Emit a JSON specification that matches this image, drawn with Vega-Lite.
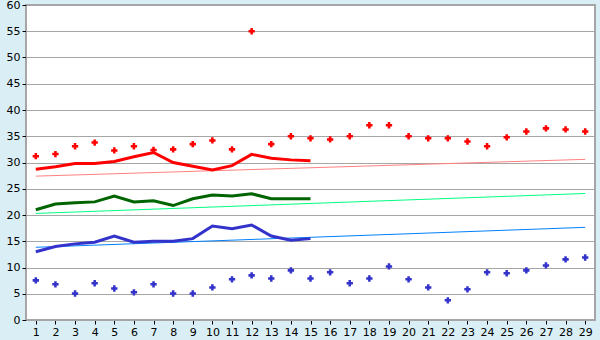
{
  "$schema": "https://vega.github.io/schema/vega-lite/v6.json",
  "autosize": {"type": "none"},
  "width": 569,
  "height": 315,
  "padding": {"left": 26, "top": 5, "right": 5, "bottom": 20},
  "background": "#D9EFF5",
  "config": {
    "view": {"fill": "white", "stroke": "#A6A6A6", "strokeWidth": 2},
    "axis": {"labelFont": "DejaVu Sans", "labelFontSize": 11, "labelColor": "#000000", "titleFontSize": 0}
  },
  "datasets": {
    "pts": [
      {"x": 1, "s": "redPts", "v": 31.2}, {"x": 2, "s": "redPts", "v": 31.6}, {"x": 3, "s": "redPts", "v": 33.1}, {"x": 4, "s": "redPts", "v": 33.8}, {"x": 5, "s": "redPts", "v": 32.3}, {"x": 6, "s": "redPts", "v": 33.1}, {"x": 7, "s": "redPts", "v": 32.4}, {"x": 8, "s": "redPts", "v": 32.5}, {"x": 9, "s": "redPts", "v": 33.5}, {"x": 10, "s": "redPts", "v": 34.2},
      {"x": 11, "s": "redPts", "v": 32.5}, {"x": 12, "s": "redPts", "v": 55.0}, {"x": 13, "s": "redPts", "v": 33.5}, {"x": 14, "s": "redPts", "v": 35.0}, {"x": 15, "s": "redPts", "v": 34.6}, {"x": 16, "s": "redPts", "v": 34.4}, {"x": 17, "s": "redPts", "v": 35.0}, {"x": 18, "s": "redPts", "v": 37.1}, {"x": 19, "s": "redPts", "v": 37.1}, {"x": 20, "s": "redPts", "v": 35.0},
      {"x": 21, "s": "redPts", "v": 34.6}, {"x": 22, "s": "redPts", "v": 34.6}, {"x": 23, "s": "redPts", "v": 34.0}, {"x": 24, "s": "redPts", "v": 33.1}, {"x": 25, "s": "redPts", "v": 34.8}, {"x": 26, "s": "redPts", "v": 35.9}, {"x": 27, "s": "redPts", "v": 36.5}, {"x": 28, "s": "redPts", "v": 36.3}, {"x": 29, "s": "redPts", "v": 35.9},
      {"x": 1, "s": "bluePts", "v": 7.55}, {"x": 2, "s": "bluePts", "v": 6.8}, {"x": 3, "s": "bluePts", "v": 5.05}, {"x": 4, "s": "bluePts", "v": 7.0}, {"x": 5, "s": "bluePts", "v": 6.0}, {"x": 6, "s": "bluePts", "v": 5.27}, {"x": 7, "s": "bluePts", "v": 6.8}, {"x": 8, "s": "bluePts", "v": 5.05}, {"x": 9, "s": "bluePts", "v": 5.05}, {"x": 10, "s": "bluePts", "v": 6.2},
      {"x": 11, "s": "bluePts", "v": 7.75}, {"x": 12, "s": "bluePts", "v": 8.5}, {"x": 13, "s": "bluePts", "v": 7.9}, {"x": 14, "s": "bluePts", "v": 9.45}, {"x": 15, "s": "bluePts", "v": 7.9}, {"x": 16, "s": "bluePts", "v": 9.08}, {"x": 17, "s": "bluePts", "v": 7.0}, {"x": 18, "s": "bluePts", "v": 7.9}, {"x": 19, "s": "bluePts", "v": 10.2}, {"x": 20, "s": "bluePts", "v": 7.75},
      {"x": 21, "s": "bluePts", "v": 6.2}, {"x": 22, "s": "bluePts", "v": 3.75}, {"x": 23, "s": "bluePts", "v": 5.84}, {"x": 24, "s": "bluePts", "v": 9.08}, {"x": 25, "s": "bluePts", "v": 8.9}, {"x": 26, "s": "bluePts", "v": 9.45}, {"x": 27, "s": "bluePts", "v": 10.4}, {"x": 28, "s": "bluePts", "v": 11.55}, {"x": 29, "s": "bluePts", "v": 11.9}
    ],
    "lines": [
      {"x": 1, "s": "redLine", "v": 28.7}, {"x": 2, "s": "redLine", "v": 29.2}, {"x": 3, "s": "redLine", "v": 29.8}, {"x": 4, "s": "redLine", "v": 29.8}, {"x": 5, "s": "redLine", "v": 30.2}, {"x": 6, "s": "redLine", "v": 31.1}, {"x": 7, "s": "redLine", "v": 31.9}, {"x": 8, "s": "redLine", "v": 30.0}, {"x": 9, "s": "redLine", "v": 29.3}, {"x": 10, "s": "redLine", "v": 28.6}, {"x": 11, "s": "redLine", "v": 29.4}, {"x": 12, "s": "redLine", "v": 31.55}, {"x": 13, "s": "redLine", "v": 30.8}, {"x": 14, "s": "redLine", "v": 30.5}, {"x": 15, "s": "redLine", "v": 30.35},
      {"x": 1, "s": "greenLine", "v": 21.0}, {"x": 2, "s": "greenLine", "v": 22.1}, {"x": 3, "s": "greenLine", "v": 22.35}, {"x": 4, "s": "greenLine", "v": 22.5}, {"x": 5, "s": "greenLine", "v": 23.6}, {"x": 6, "s": "greenLine", "v": 22.5}, {"x": 7, "s": "greenLine", "v": 22.7}, {"x": 8, "s": "greenLine", "v": 21.8}, {"x": 9, "s": "greenLine", "v": 23.1}, {"x": 10, "s": "greenLine", "v": 23.8}, {"x": 11, "s": "greenLine", "v": 23.6}, {"x": 12, "s": "greenLine", "v": 24.05}, {"x": 13, "s": "greenLine", "v": 23.1}, {"x": 14, "s": "greenLine", "v": 23.1}, {"x": 15, "s": "greenLine", "v": 23.1},
      {"x": 1, "s": "blueLine", "v": 13.0}, {"x": 2, "s": "blueLine", "v": 14.0}, {"x": 3, "s": "blueLine", "v": 14.5}, {"x": 4, "s": "blueLine", "v": 14.8}, {"x": 5, "s": "blueLine", "v": 16.0}, {"x": 6, "s": "blueLine", "v": 14.8}, {"x": 7, "s": "blueLine", "v": 15.0}, {"x": 8, "s": "blueLine", "v": 15.0}, {"x": 9, "s": "blueLine", "v": 15.5}, {"x": 10, "s": "blueLine", "v": 17.9}, {"x": 11, "s": "blueLine", "v": 17.4}, {"x": 12, "s": "blueLine", "v": 18.1}, {"x": 13, "s": "blueLine", "v": 16.0}, {"x": 14, "s": "blueLine", "v": 15.2}, {"x": 15, "s": "blueLine", "v": 15.5}
    ],
    "trends": [
      {"x": 1, "s": "redTrend", "v": 27.4}, {"x": 29, "s": "redTrend", "v": 30.6},
      {"x": 1, "s": "greenTrend", "v": 20.3}, {"x": 29, "s": "greenTrend", "v": 24.1},
      {"x": 1, "s": "blueTrend", "v": 13.85}, {"x": 29, "s": "blueTrend", "v": 17.65}
    ]
  },
  "encoding": {
    "x": {
      "field": "x", "type": "quantitative",
      "scale": {"domain": [0.5, 29.5], "nice": false, "zero": false},
      "axis": {"values": [1,2,3,4,5,6,7,8,9,10,11,12,13,14,15,16,17,18,19,20,21,22,23,24,25,26,27,28,29], "grid": false, "domainColor": "#A6A6A6", "tickColor": "#000000", "tickSize": 4, "labelPadding": 2, "title": null}
    },
    "y": {
      "field": "v", "type": "quantitative",
      "scale": {"domain": [0, 60], "nice": false},
      "axis": {"values": [0,5,10,15,20,25,30,35,40,45,50,55,60], "grid": true, "gridColor": "#A6A6A6", "gridWidth": 1, "domainColor": "#A6A6A6", "tickColor": "#000000", "tickSize": 4, "labelPadding": 2, "title": null}
    },
    "color": {
      "field": "s", "type": "nominal", "legend": null,
      "scale": {
        "domain": ["redTrend", "greenTrend", "blueTrend", "redLine", "greenLine", "blueLine", "redPts", "bluePts"],
        "range": ["#FF8080", "#00FF80", "#0080FF", "#FF0000", "#006400", "#3333CC", "#FF0000", "#3333CC"]
      }
    }
  },
  "layer": [
    {"data": {"name": "trends"}, "mark": {"type": "line", "strokeWidth": 1}},
    {"data": {"name": "lines"}, "mark": {"type": "line", "strokeWidth": 3, "interpolate": "linear"}},
    {"data": {"name": "pts"}, "mark": {"type": "point", "shape": "cross", "filled": true, "size": 40, "opacity": 1}}
  ]
}
